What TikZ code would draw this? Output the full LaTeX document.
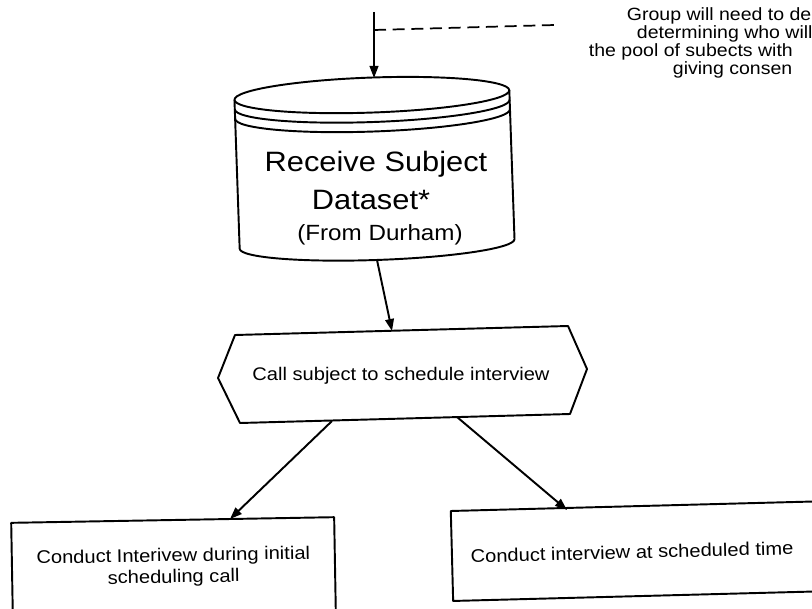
\documentclass[tikz,border=0pt]{standalone}
\usepackage{fontspec}
\setmainfont{Liberation Sans}[FakeStretch=1.1]
\usetikzlibrary{arrows.meta}
\begin{document}
\begin{tikzpicture}[x=0.75pt,y=-0.75pt,line width=1.45pt,line join=round,
  tip/.style={-{Triangle[length=9pt,width=6.5pt]}},
  bigtxt/.style={font=\fontsize{21}{24}\selectfont},
  midtxt/.style={font=\fontsize{16.5}{20}\selectfont},
  smalltxt/.style={font=\fontsize{13.7}{16}\selectfont},
  notetxt/.style={font=\fontsize{13.3}{15}\selectfont,anchor=west,inner sep=0pt},
  boxnode/.style={draw,rectangle,inner sep=0pt,align=center,smalltxt}]
\clip (0,0) rectangle (812,609);
\fill[white] (0,0) rectangle (812,609);
% cylinder (data store)
\begin{scope}[rotate around={2:(374.5,170)}]
  \draw (237,95) -- (237,244) arc[start angle=180,end angle=0,x radius=137.5,y radius=16] -- (512,95);
  \draw[fill=white] (374.5,95) ellipse[x radius=137.5,y radius=17.5];
  \draw (237,104.5) arc[start angle=180,end angle=0,x radius=137.5,y radius=17.5];
  \draw (237,114) arc[start angle=180,end angle=0,x radius=137.5,y radius=17.5];
\end{scope}
\node[bigtxt] (ds1) at (376,164) {Receive Subject};
\node[bigtxt] (ds2) at (371,200) {Dataset*};
\node[midtxt] (ds3) at (380,235) {(From Durham)};
% incoming arrow and dashed note link
\coordinate (in) at (374,12);
\coordinate (dsTop) at (374,78);
\coordinate (dj) at (374,30);
\coordinate (dEnd) at (555,25);
\draw[tip] (in) -- (dsTop);
\draw[line width=1.3pt,dash pattern=on 9pt off 5pt] (dj) -- (dEnd);
% note text (cut by the edge in the original)
\node[notetxt] (n1) at (626,16) {Group will need to de};
\node[notetxt] (n2) at (636,34) {determining who will};
\node[notetxt] (n3) at (588,52) {the pool of subects with};
\node[notetxt] (n4) at (672,70) {giving consen};
% hexagon
\coordinate (h1) at (235,335);
\coordinate (h2) at (568,326);
\coordinate (h3) at (587,369);
\coordinate (h4) at (570,414);
\coordinate (h5) at (240,423);
\coordinate (h6) at (218,378);
\draw (h1) -- (h2) -- (h3) -- (h4) -- (h5) -- (h6) -- cycle;
\node[smalltxt] (call) at (401,376) {Call subject to schedule interview};
\coordinate (dsBot) at (377,260);
\coordinate (callTop) at (392,331);
\draw[tip] (dsBot) -- (callTop);
% boxes
\node[boxnode,rotate=1,minimum width=242.25pt,minimum height=71.25pt] (ibox) at (173.5,567.5)
  {Conduct Interivew during initial\\scheduling call};
\node[boxnode,rotate=1.5,anchor=west,minimum width=330pt,minimum height=67.5pt] (sbox) at (451,556) {};
\node[smalltxt,rotate=1.5] (stxt) at (632,552) {Conduct interview at scheduled time};
\coordinate (callBL) at (332,421);
\coordinate (callBR) at (457,417);
\coordinate (iTop) at (230,519);
\coordinate (sTop) at (567,510);
\draw[tip] (callBL) -- (iTop);
\draw[tip] (callBR) -- (sTop);
\end{tikzpicture}
\end{document}
